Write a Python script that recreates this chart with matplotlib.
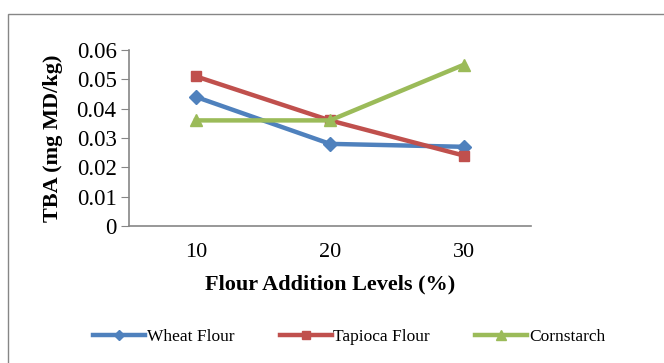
import matplotlib.pyplot as plt
from matplotlib.patches import Rectangle

levels = ["10", "20", "30"]
wheat = [0.044, 0.028, 0.027]
tapioca = [0.051, 0.036, 0.024]
cornstarch = [0.036, 0.036, 0.055]
yticks = [0, 0.01, 0.02, 0.03, 0.04, 0.05, 0.06]
ytick_labels = ["0", "0.01", "0.02", "0.03", "0.04", "0.05", "0.06"]

plt.rcParams["font.family"] = ["Liberation Serif", "DejaVu Serif"]

fig = plt.figure(figsize=(6.64, 3.63), dpi=100)
ax = fig.add_axes([129 / 664, 1 - 226 / 363, 402 / 664, 176 / 363])

x = range(len(levels))
ax.plot(x, wheat, color="#4F81BD", lw=3.2, marker="D", ms=7, label="Wheat Flour")
ax.plot(x, tapioca, color="#C0504D", lw=3.2, marker="s", ms=7, label="Tapioca Flour")
ax.plot(x, cornstarch, color="#9BBB59", lw=3.2, marker="^", ms=9, label="Cornstarch")

ax.set_xlim(-0.5, 2.5)
ax.set_ylim(0, 0.06)
ax.set_xticks(list(x))
ax.set_xticklabels(levels)
ax.set_yticks(yticks)
ax.set_yticklabels(ytick_labels)
ax.tick_params(axis="x", length=0, labelsize=16, pad=12)
ax.tick_params(axis="y", length=6, color="#868686", labelsize=16.5, pad=3)

for s in ["top", "right"]:
    ax.spines[s].set_visible(False)
for s in ["left", "bottom"]:
    ax.spines[s].set_color("#868686")
    ax.spines[s].set_linewidth(1.2)

ax.set_xlabel("Flour Addition Levels (%)", fontsize=16, fontweight="bold", labelpad=9)
ax.set_ylabel("TBA (mg MD/kg)", fontsize=16, fontweight="bold", labelpad=10)

fig.legend(loc="center", bbox_to_anchor=(0.526, 1 - 337 / 363), ncol=3,
           frameon=False, fontsize=12.5, handlelength=3.0, columnspacing=2.6,
           handletextpad=0.1, markerscale=0.8)

fig.add_artist(Rectangle((8 / 664, -0.1), 1.0, (363 - 14) / 363 + 0.1,
                         transform=fig.transFigure, fill=False,
                         edgecolor="#868686", lw=1))

fig.savefig("out.png", dpi=100)
